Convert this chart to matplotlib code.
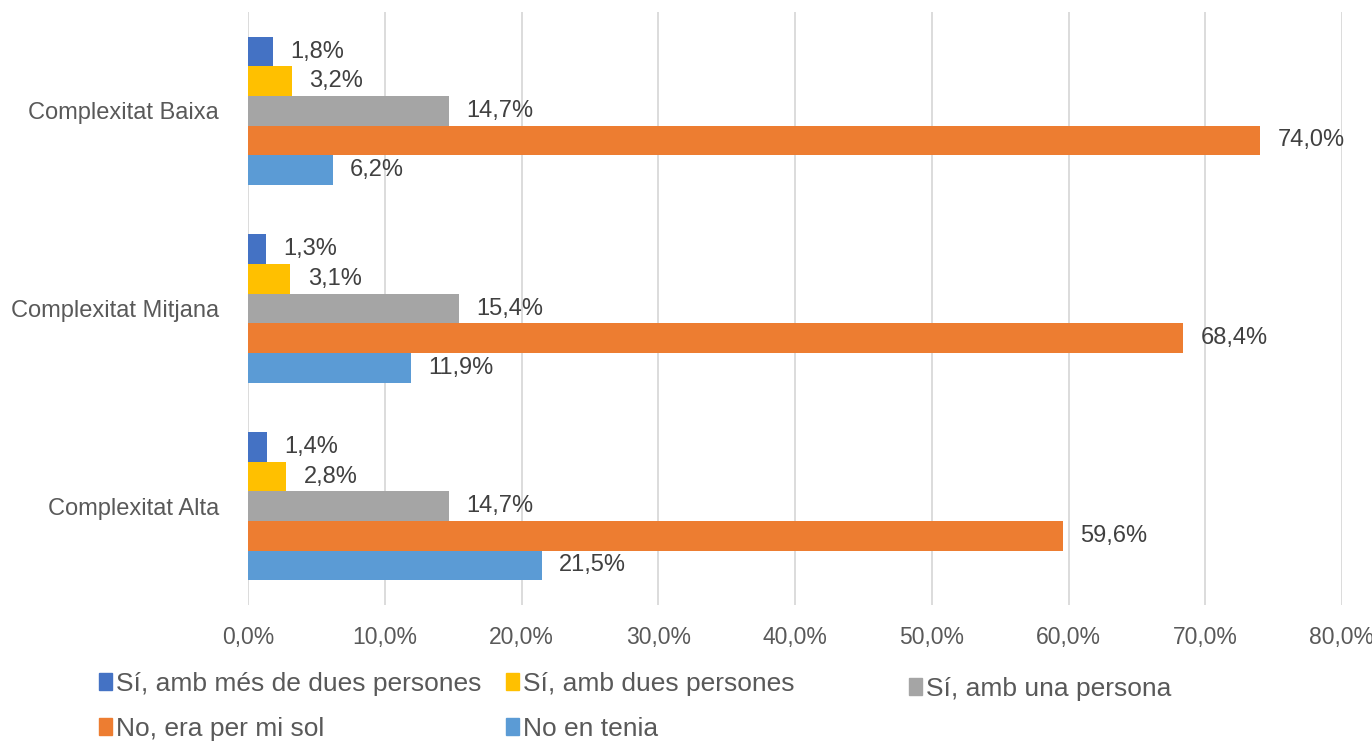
import numpy as np
import matplotlib
matplotlib.use("Agg")
import matplotlib.pyplot as plt
from matplotlib.patches import Patch

plt.rcParams["font.family"] = ["Liberation Sans", "DejaVu Sans"]

categories = ["Complexitat Baixa", "Complexitat Mitjana", "Complexitat Alta"]
series_names = [
    "Sí, amb més de dues persones",
    "Sí, amb dues persones",
    "Sí, amb una persona",
    "No, era per mi sol",
    "No en tenia",
]
colors = ["#4472C4", "#FFC000", "#A5A5A5", "#ED7D31", "#5B9BD5"]

mes_de_dues = [1.8, 1.3, 1.4]
dues = [3.2, 3.1, 2.8]
una = [14.7, 15.4, 14.7]
per_mi_sol = [74.0, 68.4, 59.6]
no_en_tenia = [6.2, 11.9, 21.5]
values = [mes_de_dues, dues, una, per_mi_sol, no_en_tenia]

x_ticks = np.arange(0, 81, 10)

fig = plt.figure(figsize=(13.72, 7.41), dpi=100)
ax = fig.add_axes([248 / 1372, 1 - 605 / 741, (1342 - 248) / 1372, (605 - 12) / 741])

bar_h = 0.15
ypos = np.arange(len(categories))[::-1]  # Baixa on top
for i, (vals, c) in enumerate(zip(values, colors)):
    y = ypos + (2 - i) * bar_h
    ax.barh(y, vals, height=bar_h, color=c, zorder=3)
    for yy, v in zip(y, vals):
        ax.annotate(f"{v:.1f}%".replace(".", ","), (v, yy),
                    xytext=(12.5, 0), textcoords="offset points",
                    ha="left", va="center", fontsize=17, color="#404040")

ax.set_xlim(0, 80)
ax.set_ylim(-0.5, 2.5)
ax.set_xticks(x_ticks)
ax.set_xticklabels([f"{t:.1f}%".replace(".", ",") for t in x_ticks])
ax.set_yticks(ypos)
ax.set_yticklabels(categories)
ax.tick_params(axis="x", length=0, pad=15, labelsize=16.5, labelcolor="#595959")
ax.tick_params(axis="y", length=0, pad=21, labelsize=17, labelcolor="#595959")
ax.grid(axis="x", color="#D9D9D9", linewidth=1.3, zorder=0)
for s in ax.spines.values():
    s.set_visible(False)

# legend entries placed like Excel's grid
legend_pos = [(99, 684), (506, 684), (909, 689), (99, 729), (506, 729)]
for name, c, (px, py) in zip(series_names, colors, legend_pos):
    fig.legend(handles=[Patch(color=c)], labels=[name], loc="center left",
               bbox_to_anchor=(px / 1372, 1 - py / 741), frameon=False,
               handlelength=0.5, handleheight=0.6, handletextpad=0.15,
               borderaxespad=0, borderpad=0, fontsize=19, labelcolor="#595959")

fig.savefig("out.png", dpi=100)
